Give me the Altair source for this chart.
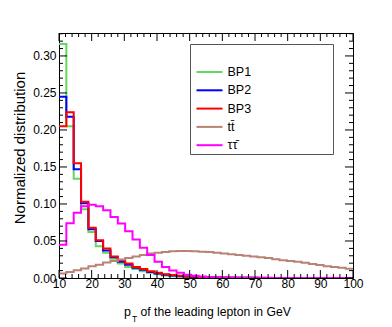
import altair as alt
import pandas as pd
import numpy as np

labels = ["BP1", "BP2", "BP3", "tt\u0304", "\u03c4\u03c4\u0304"]
colors = ["#62d85c", "#0000ff", "#ff0000", "#b88274", "#ff00ff"]
x_lo, x_hi, nbins = 10, 100, 40

bp1 = [0.316, 0.205, 0.134, 0.093, 0.062, 0.043, 0.034, 0.026, 0.0195, 0.015,
       0.012, 0.009, 0.007, 0.005, 0.0035, 0.0025, 0.002, 0.0015, 0.001, 0.0008,
       0.0006, 0.0005, 0.0004, 0.0003, 0.0002, 0.0002, 0.0001, 0.0001, 0.0001, 0.0,
       0.0, 0.0, 0.0, 0.0, 0.0, 0.0, 0.0, 0.0, 0.0, 0.0]
bp2 = [0.245, 0.218, 0.147, 0.101, 0.066, 0.050, 0.037, 0.028, 0.022, 0.018,
       0.014, 0.011, 0.008, 0.006, 0.0045, 0.0035, 0.0025, 0.002, 0.0015, 0.001,
       0.0008, 0.0006, 0.0005, 0.0004, 0.0003, 0.0002, 0.0002, 0.0001, 0.0001, 0.0001,
       0.0001, 0.0, 0.0, 0.0, 0.0, 0.0, 0.0, 0.0, 0.0, 0.0]
bp3 = [0.205, 0.224, 0.155, 0.103, 0.068, 0.051, 0.040, 0.029, 0.024, 0.0195,
       0.015, 0.012, 0.009, 0.007, 0.005, 0.004, 0.003, 0.0025, 0.002, 0.0015,
       0.001, 0.0008, 0.0006, 0.0005, 0.0004, 0.0003, 0.0002, 0.0002, 0.0001, 0.0001,
       0.0001, 0.0, 0.0, 0.0, 0.0, 0.0, 0.0, 0.0, 0.0, 0.0]
ttbar = [0.006, 0.008, 0.0105, 0.013, 0.016, 0.018, 0.021, 0.023, 0.025, 0.027,
         0.029, 0.031, 0.033, 0.034, 0.035, 0.036, 0.0365, 0.0365, 0.036, 0.0355,
         0.035, 0.034, 0.033, 0.032, 0.031, 0.030, 0.029, 0.028, 0.027, 0.0255,
         0.024, 0.023, 0.022, 0.0205, 0.019, 0.0175, 0.016, 0.015, 0.014, 0.0125]
tautau = [0.045, 0.074, 0.088, 0.097, 0.099, 0.097, 0.0915, 0.0825, 0.0735, 0.063,
          0.052, 0.041, 0.031, 0.022, 0.015, 0.010, 0.007, 0.0045, 0.003, 0.002,
          0.0015, 0.001, 0.0008, 0.0006, 0.0005, 0.0004, 0.0003, 0.0002, 0.0002, 0.0001,
          0.0001, 0.0001, 0.0001, 0.0, 0.0, 0.0, 0.0, 0.0, 0.0, 0.0]
series = [bp1, bp2, bp3, ttbar, tautau]

x_ticks = list(range(10, 101, 10))
y_ticks = [0.0, 0.05, 0.10, 0.15, 0.20, 0.25, 0.30]

W, H = 294, 245
FONT = "Liberation Sans"
edges = np.linspace(x_lo, x_hi, nbins + 1)

xs = alt.Scale(domain=[x_lo, x_hi], nice=False, zero=False)
ys = alt.Scale(domain=[0, 0.331], nice=False)
xa = alt.Axis(values=x_ticks, format="d", ticks=False, domain=False, grid=False,
              labelFont=FONT, labelFontSize=12, labelColor="black", labelPadding=0,
              title=None, labelOverlap=False, labelFlush=False)
ya = alt.Axis(values=y_ticks, format=".2f", ticks=False, domain=False, grid=False,
              labelFont=FONT, labelFontSize=12, labelColor="black", labelPadding=3,
              title=None, labelOverlap=False, labelFlush=False)

layers = []
for i, (lab, col, vals) in enumerate(zip(labels, colors, series)):
    xv = list(edges[:-1]) + [edges[-1]]
    yv = list(vals) + [vals[-1]]
    df = pd.DataFrame({"x": xv, "y": yv})
    ch = alt.Chart(df).mark_line(interpolate="step-after", strokeWidth=2,
                                 color=col, clip=True).encode(
        x=alt.X("x:Q", scale=xs, axis=xa),
        y=alt.Y("y:Q", scale=ys, axis=ya),
    )
    layers.append(ch)

# inward ticks
ymaj = pd.DataFrame({"y": y_ticks})
ymin = pd.DataFrame({"y": [round(v, 3) for v in np.arange(0.01, 0.331, 0.01)
                           if abs(v / 0.05 - round(v / 0.05)) > 1e-6]})
xmaj = pd.DataFrame({"x": x_ticks})
xmin = pd.DataFrame({"x": [v for v in range(12, 100, 2) if v % 10 != 0]})

for d, L in [(ymaj, 8), (ymin, 4)]:
    layers.append(alt.Chart(d).mark_rule(color="black", strokeWidth=1).encode(
        y=alt.Y("y:Q", scale=ys, axis=ya), x=alt.value(0), x2=alt.value(L)))
    layers.append(alt.Chart(d).mark_rule(color="black", strokeWidth=1).encode(
        y=alt.Y("y:Q", scale=ys, axis=ya), x=alt.value(W - L), x2=alt.value(W)))
for d, L in [(xmaj, 8), (xmin, 4)]:
    layers.append(alt.Chart(d).mark_rule(color="black", strokeWidth=1).encode(
        x=alt.X("x:Q", scale=xs, axis=xa), y=alt.value(H - L), y2=alt.value(H)))
    layers.append(alt.Chart(d).mark_rule(color="black", strokeWidth=1).encode(
        x=alt.X("x:Q", scale=xs, axis=xa), y=alt.value(0), y2=alt.value(L)))

one = pd.DataFrame({"a": [0]})

# legend box
layers.append(alt.Chart(one).mark_rect(fill="white", stroke="#555555", strokeWidth=1).encode(
    x=alt.value(131.5), x2=alt.value(274.5), y=alt.value(11.5), y2=alt.value(121.5)))
for i, (lab, col) in enumerate(zip(labels, colors)):
    yy = 39 + 18.3 * i
    layers.append(alt.Chart(one).mark_rule(color=col, strokeWidth=2).encode(
        x=alt.value(137.5), x2=alt.value(163.5), y=alt.value(yy)))
    layers.append(alt.Chart(one).mark_text(align="left", baseline="middle", font=FONT,
                                           fontSize=12.5, color="black").encode(
        x=alt.value(168.5), y=alt.value(yy), text=alt.value(lab)))

# axis titles
layers.append(alt.Chart(one).mark_text(angle=270, align="center", baseline="middle",
                                       font=FONT, fontSize=15, color="black").encode(
    x=alt.value(-39.5), y=alt.value(115), text=alt.value("Normalized distribution")))
layers.append(alt.Chart(one).mark_text(align="left", baseline="alphabetic",
                                       font=FONT, fontSize=12.5, color="black").encode(
    x=alt.value(65), y=alt.value(282.5), text=alt.value("p")))
layers.append(alt.Chart(one).mark_text(align="left", baseline="alphabetic",
                                       font=FONT, fontSize=8.5, color="black").encode(
    x=alt.value(73), y=alt.value(288.5), text=alt.value("T")))
layers.append(alt.Chart(one).mark_text(align="left", baseline="alphabetic",
                                       font=FONT, fontSize=12.2, color="black").encode(
    x=alt.value(81.5), y=alt.value(282.5), text=alt.value("of the leading lepton in GeV")))

chart = alt.layer(*layers).properties(
    width=W, height=H,
    autosize=alt.AutoSizeParams(type="none"),
    padding={"left": 51, "top": 25, "right": 31, "bottom": 47},
).configure_view(stroke="black", strokeWidth=1)

chart.save("out.html", embed_options={"renderer": "svg", "actions": False})
